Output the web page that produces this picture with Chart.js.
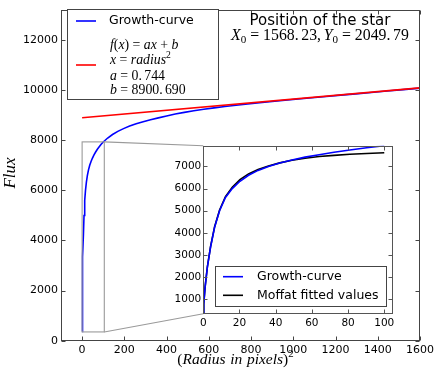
<!DOCTYPE html>
<html>
<head>
<meta charset="utf-8">
<script src="https://cdn.jsdelivr.net/npm/chart.js@4.4.1/dist/chart.umd.min.js"></script>
<style>
html,body{margin:0;padding:0;background:#fff;}
#wrap{position:relative;width:439px;height:381px;}
canvas{position:absolute;left:0;top:0;}
</style>
</head>
<body>
<div id="wrap">
<canvas id="main" width="439" height="381"></canvas>
<canvas id="inset" width="439" height="381"></canvas>
</div>
<script>
// ---------- data ----------
const growthX = [0, 0.25, 1, 2.25, 4, 6.25, 9, 12.25, 16, 20.25, 25, 30.25, 36, 42.25, 49, 56.25, 64, 72.25, 81, 90.25, 100,
  121, 144, 169, 196, 225, 256, 289, 324, 361, 400, 441, 484, 529, 576, 625, 676, 729, 784, 841, 900, 961, 1024, 1089,
  1156, 1225, 1296, 1369, 1444, 1521, 1600];
const growthY = [370, 800, 1550, 2450, 3350, 4250, 5000, 5600, 6000, 6330, 6600, 6820, 7000, 7150, 7290, 7420, 7530, 7640, 7740, 7840, 7930,
  8090, 8230, 8355, 8465, 8565, 8655, 8740, 8820, 8893, 8971, 9045, 9114, 9177, 9236, 9292, 9346, 9398, 9449, 9499, 9549, 9598, 9647, 9697,
  9748, 9800, 9853, 9908, 9964, 10022, 10081];
const fitX = [0, 1600];
const fitY = [8900.7, 10091.1];
const moffatX = [0, 0.25, 1, 2.25, 4, 6.25, 9, 12.25, 16, 20.25, 25, 30.25, 36, 42.25, 49, 56.25, 64, 72.25, 81, 90.25, 100];
const moffatY = [370, 800, 1560, 2470, 3380, 4280, 5030, 5640, 6060, 6400, 6660, 6860, 7020, 7160, 7280, 7370, 7445, 7500, 7550, 7585, 7615];

const mainXTicks = [0, 200, 400, 600, 800, 1000, 1200, 1400, 1600];
const mainYTicks = [0, 2000, 4000, 6000, 8000, 10000, 12000];
const mainXRange = [-100, 1600];
const mainYRange = [0, 13215];
const insetXTicks = [0, 20, 40, 60, 80, 100];
const insetYTicks = [1000, 2000, 3000, 4000, 5000, 6000, 7000];
const insetXRange = [0, 105];
const insetYRange = [350, 7935];

const mainLegendLabel = 'Growth-curve';
const insetLegendLabels = ['Growth-curve', 'Moffat fitted values'];
const titleText = 'Position of the star';

// ---------- layout ----------
const MAIN = {left: 61, top: 3.7, right: 420, bottom: 340.7};
const INSET = {left: 203.3, top: 145.7, right: 393.3, bottom: 313.7};
const W = 439, H = 381;
const SERIF = '"Liberation Serif", "Times New Roman", serif';
const SANS = '"DejaVu Sans", sans-serif';

function drawMath(ctx, parts, x, y, size, align) {
  const items = parts.map(([t, k]) => {
    let font = `${size}px ${SERIF}`, dy = 0, padL = 0, padR = 0, w = 0;
    if (k === 'i') font = `italic ${size}px ${SERIF}`;
    if (k === 'op') { padL = padR = 0.25 * size; }
    if (k === 'sup') { font = `${size * 0.7}px ${SERIF}`; dy = -0.4 * size; }
    if (k === 'sub') { font = `${size * 0.7}px ${SERIF}`; dy = 0.22 * size; }
    if (k === 'sp') { return {sp: true, w: t * size}; }
    ctx.font = font;
    w = ctx.measureText(t).width;
    return {t, font, dy, padL, padR, w: w + padL + padR, tw: w};
  });
  const total = items.reduce((s, it) => s + it.w, 0);
  let cx = align === 'center' ? x - total / 2 : x;
  ctx.textAlign = 'left';
  ctx.textBaseline = 'alphabetic';
  for (const it of items) {
    if (!it.sp) {
      ctx.font = it.font;
      ctx.fillText(it.t, cx + it.padL, y + it.dy);
    }
    cx += it.w;
  }
}

function drawFrame(ctx, area, xs, ys, xt, yt, color) {
  ctx.save();
  ctx.strokeStyle = color;
  ctx.lineWidth = 1;
  const L = Math.round(area.left) + 0.5, R = Math.round(area.right) - 0.5;
  const T = Math.round(area.top) + 0.5, B = Math.round(area.bottom) - 0.5;
  ctx.strokeRect(L, T, R - L, B - T);
  ctx.beginPath();
  const len = 4;
  for (const v of xt) {
    const px = Math.round(xs.getPixelForValue(v)) + 0.5;
    ctx.moveTo(px, B); ctx.lineTo(px, B - len);
    ctx.moveTo(px, T); ctx.lineTo(px, T + len);
  }
  for (const v of yt) {
    const py = Math.round(ys.getPixelForValue(v)) + 0.5;
    ctx.moveTo(L, py); ctx.lineTo(L + len, py);
    ctx.moveTo(R, py); ctx.lineTo(R - len, py);
  }
  ctx.stroke();
  ctx.restore();
}

function legendLine(ctx, x1, x2, y, color) {
  ctx.save();
  ctx.strokeStyle = color; ctx.lineWidth = 1.6;
  ctx.beginPath(); ctx.moveTo(x1, y); ctx.lineTo(x2, y); ctx.stroke();
  ctx.restore();
}

const mainDecor = {
  id: 'mainDecor',
  afterDatasetsDraw(chart) {
    const ctx = chart.ctx, xs = chart.scales.x, ys = chart.scales.y;
    const x0 = xs.getPixelForValue(insetXRange[0]), x1 = xs.getPixelForValue(insetXRange[1]);
    const y0 = ys.getPixelForValue(insetYRange[0]), y1 = ys.getPixelForValue(insetYRange[1]);
    ctx.save();
    ctx.strokeStyle = '#9a9a9a';
    ctx.lineWidth = 1.1;
    ctx.strokeRect(x0, y1, x1 - x0, y0 - y1);
    ctx.beginPath();
    ctx.moveTo(x1, y1); ctx.lineTo(INSET.left, INSET.top);
    ctx.moveTo(x1, y0); ctx.lineTo(INSET.left, INSET.bottom);
    ctx.stroke();
    ctx.restore();
  },
  afterDraw(chart) {
    const ctx = chart.ctx;
    drawFrame(ctx, chart.chartArea, chart.scales.x, chart.scales.y, mainXTicks, mainYTicks, '#444');
    ctx.save();
    // legend
    ctx.fillStyle = '#fff';
    ctx.fillRect(67.5, 9.5, 151, 90);
    ctx.strokeStyle = '#444'; ctx.lineWidth = 1;
    ctx.strokeRect(67.5, 9.5, 151, 90);
    legendLine(ctx, 76, 96, 21, '#0000ff');
    legendLine(ctx, 76, 96, 65, '#ff0000');
    ctx.fillStyle = '#000';
    ctx.font = `12.5px ${SANS}`;
    ctx.textAlign = 'left'; ctx.textBaseline = 'middle';
    ctx.fillText(mainLegendLabel, 109, 21);
    const ms = 13.8;
    drawMath(ctx, [['f','i'],['(','r'],['x','i'],[')','r'],['=','op'],['a','i'],['x','i'],['+','op'],['b','i']], 110, 48.5, ms);
    drawMath(ctx, [['x','i'],['=','op'],['radius','i'],['2','sup']], 110, 63.5, ms);
    drawMath(ctx, [['a','i'],['=','op'],['0.','r'],[0.17,'sp'],['744','r']], 110, 79.5, ms);
    drawMath(ctx, [['b','i'],['=','op'],['8900.','r'],[0.17,'sp'],['690','r']], 110, 93.5, ms);
    // title
    ctx.font = `15px ${SANS}`;
    ctx.textAlign = 'center'; ctx.textBaseline = 'alphabetic';
    ctx.fillText(titleText, 320, 25);
    drawMath(ctx, [['X','i'],['0','sub'],['=','op'],['1568.','r'],[0.17,'sp'],['23,','r'],[0.17,'sp'],
      ['Y','i'],['0','sub'],['=','op'],['2049.','r'],[0.17,'sp'],['79','r']], 320, 39.5, 15.8, 'center');
    // axis titles
    drawMath(ctx, [['(','r'],['Radius','i'],[0.3,'sp'],['in','i'],[0.3,'sp'],['pixels','i'],[')','r'],['2','sup']], 235.5, 363.5, 15.5, 'center');
    ctx.save();
    ctx.translate(15, 173);
    ctx.rotate(-Math.PI / 2);
    ctx.font = `italic 17px ${SERIF}`;
    ctx.textAlign = 'center'; ctx.textBaseline = 'alphabetic';
    ctx.fillText('Flux', 0, 0);
    ctx.restore();
    ctx.restore();
  }
};

const insetDecor = {
  id: 'insetDecor',
  beforeDatasetsDraw(chart) {
    const a = chart.chartArea, ctx = chart.ctx;
    ctx.save(); ctx.fillStyle = '#fff';
    ctx.fillRect(a.left, a.top, a.right - a.left, a.bottom - a.top);
    ctx.restore();
  },
  afterDraw(chart) {
    const ctx = chart.ctx;
    drawFrame(ctx, chart.chartArea, chart.scales.x, chart.scales.y, insetXTicks, insetYTicks, '#555');
    ctx.save();
    ctx.fillStyle = '#fff';
    ctx.fillRect(215.5, 266.5, 171, 40);
    ctx.strokeStyle = '#444'; ctx.lineWidth = 1;
    ctx.strokeRect(215.5, 266.5, 171, 40);
    legendLine(ctx, 223, 243, 276.7, '#0000ff');
    legendLine(ctx, 223, 243, 295.3, '#000000');
    ctx.fillStyle = '#000';
    ctx.font = `12.5px ${SANS}`;
    ctx.textAlign = 'left'; ctx.textBaseline = 'middle';
    ctx.fillText(insetLegendLabels[0], 257, 277);
    ctx.fillText(insetLegendLabels[1], 257, 295.5);
    ctx.restore();
  }
};

function pts(xa, ya) { return xa.map((x, i) => ({x, y: ya[i]})); }

function scaleCfg(range, ticks, size, pad, fitFn) {
  return {
    type: 'linear', min: range[0], max: range[1],
    grid: {display: false, drawTicks: false},
    border: {display: false},
    ticks: {padding: pad, color: '#000', font: {size: size, family: SANS}, autoSkip: false, maxRotation: 0,
      callback: v => String(v)},
    afterBuildTicks: s => { s.ticks = ticks.map(v => ({value: v})); },
    afterFit: fitFn
  };
}

Chart.defaults.font.family = SANS;

new Chart(document.getElementById('main'), {
  type: 'line',
  data: {datasets: [
    {data: pts(fitX, fitY), borderColor: '#ff0000', borderWidth: 1.6, pointRadius: 0, order: 0},
    {data: pts(growthX, growthY), borderColor: '#0000ff', borderWidth: 1.6, pointRadius: 0, order: 1}
  ]},
  options: {
    responsive: false, animation: false, devicePixelRatio: 1,
    layout: {padding: {left: 0, top: MAIN.top, right: W - MAIN.right, bottom: 0}},
    plugins: {legend: {display: false}, tooltip: {enabled: false}},
    scales: {
      x: scaleCfg(mainXRange, mainXTicks, 11, 3, s => { s.height = H - MAIN.bottom; }),
      y: scaleCfg(mainYRange, mainYTicks, 11, 3, s => { s.width = MAIN.left; })
    }
  },
  plugins: [mainDecor]
});

const insetGrowth = pts(growthX, growthY).filter(p => p.x <= insetXTicks[insetXTicks.length - 1]);
const YW = 45, XH = 20;
new Chart(document.getElementById('inset'), {
  type: 'line',
  data: {datasets: [
    {data: pts(moffatX, moffatY), borderColor: '#000000', borderWidth: 1.6, pointRadius: 0, order: 1},
    {data: insetGrowth, borderColor: '#0000ff', borderWidth: 1.6, pointRadius: 0, order: 0}
  ]},
  options: {
    responsive: false, animation: false, devicePixelRatio: 1,
    layout: {padding: {left: INSET.left - YW, top: INSET.top, right: W - INSET.right, bottom: H - INSET.bottom - XH}},
    plugins: {legend: {display: false}, tooltip: {enabled: false}},
    scales: {
      x: scaleCfg(insetXRange, insetXTicks, 10.5, 3, s => { s.height = XH; }),
      y: scaleCfg(insetYRange, insetYTicks, 10.5, 2, s => { s.width = YW; })
    }
  },
  plugins: [insetDecor]
});
</script>
</body>
</html>
